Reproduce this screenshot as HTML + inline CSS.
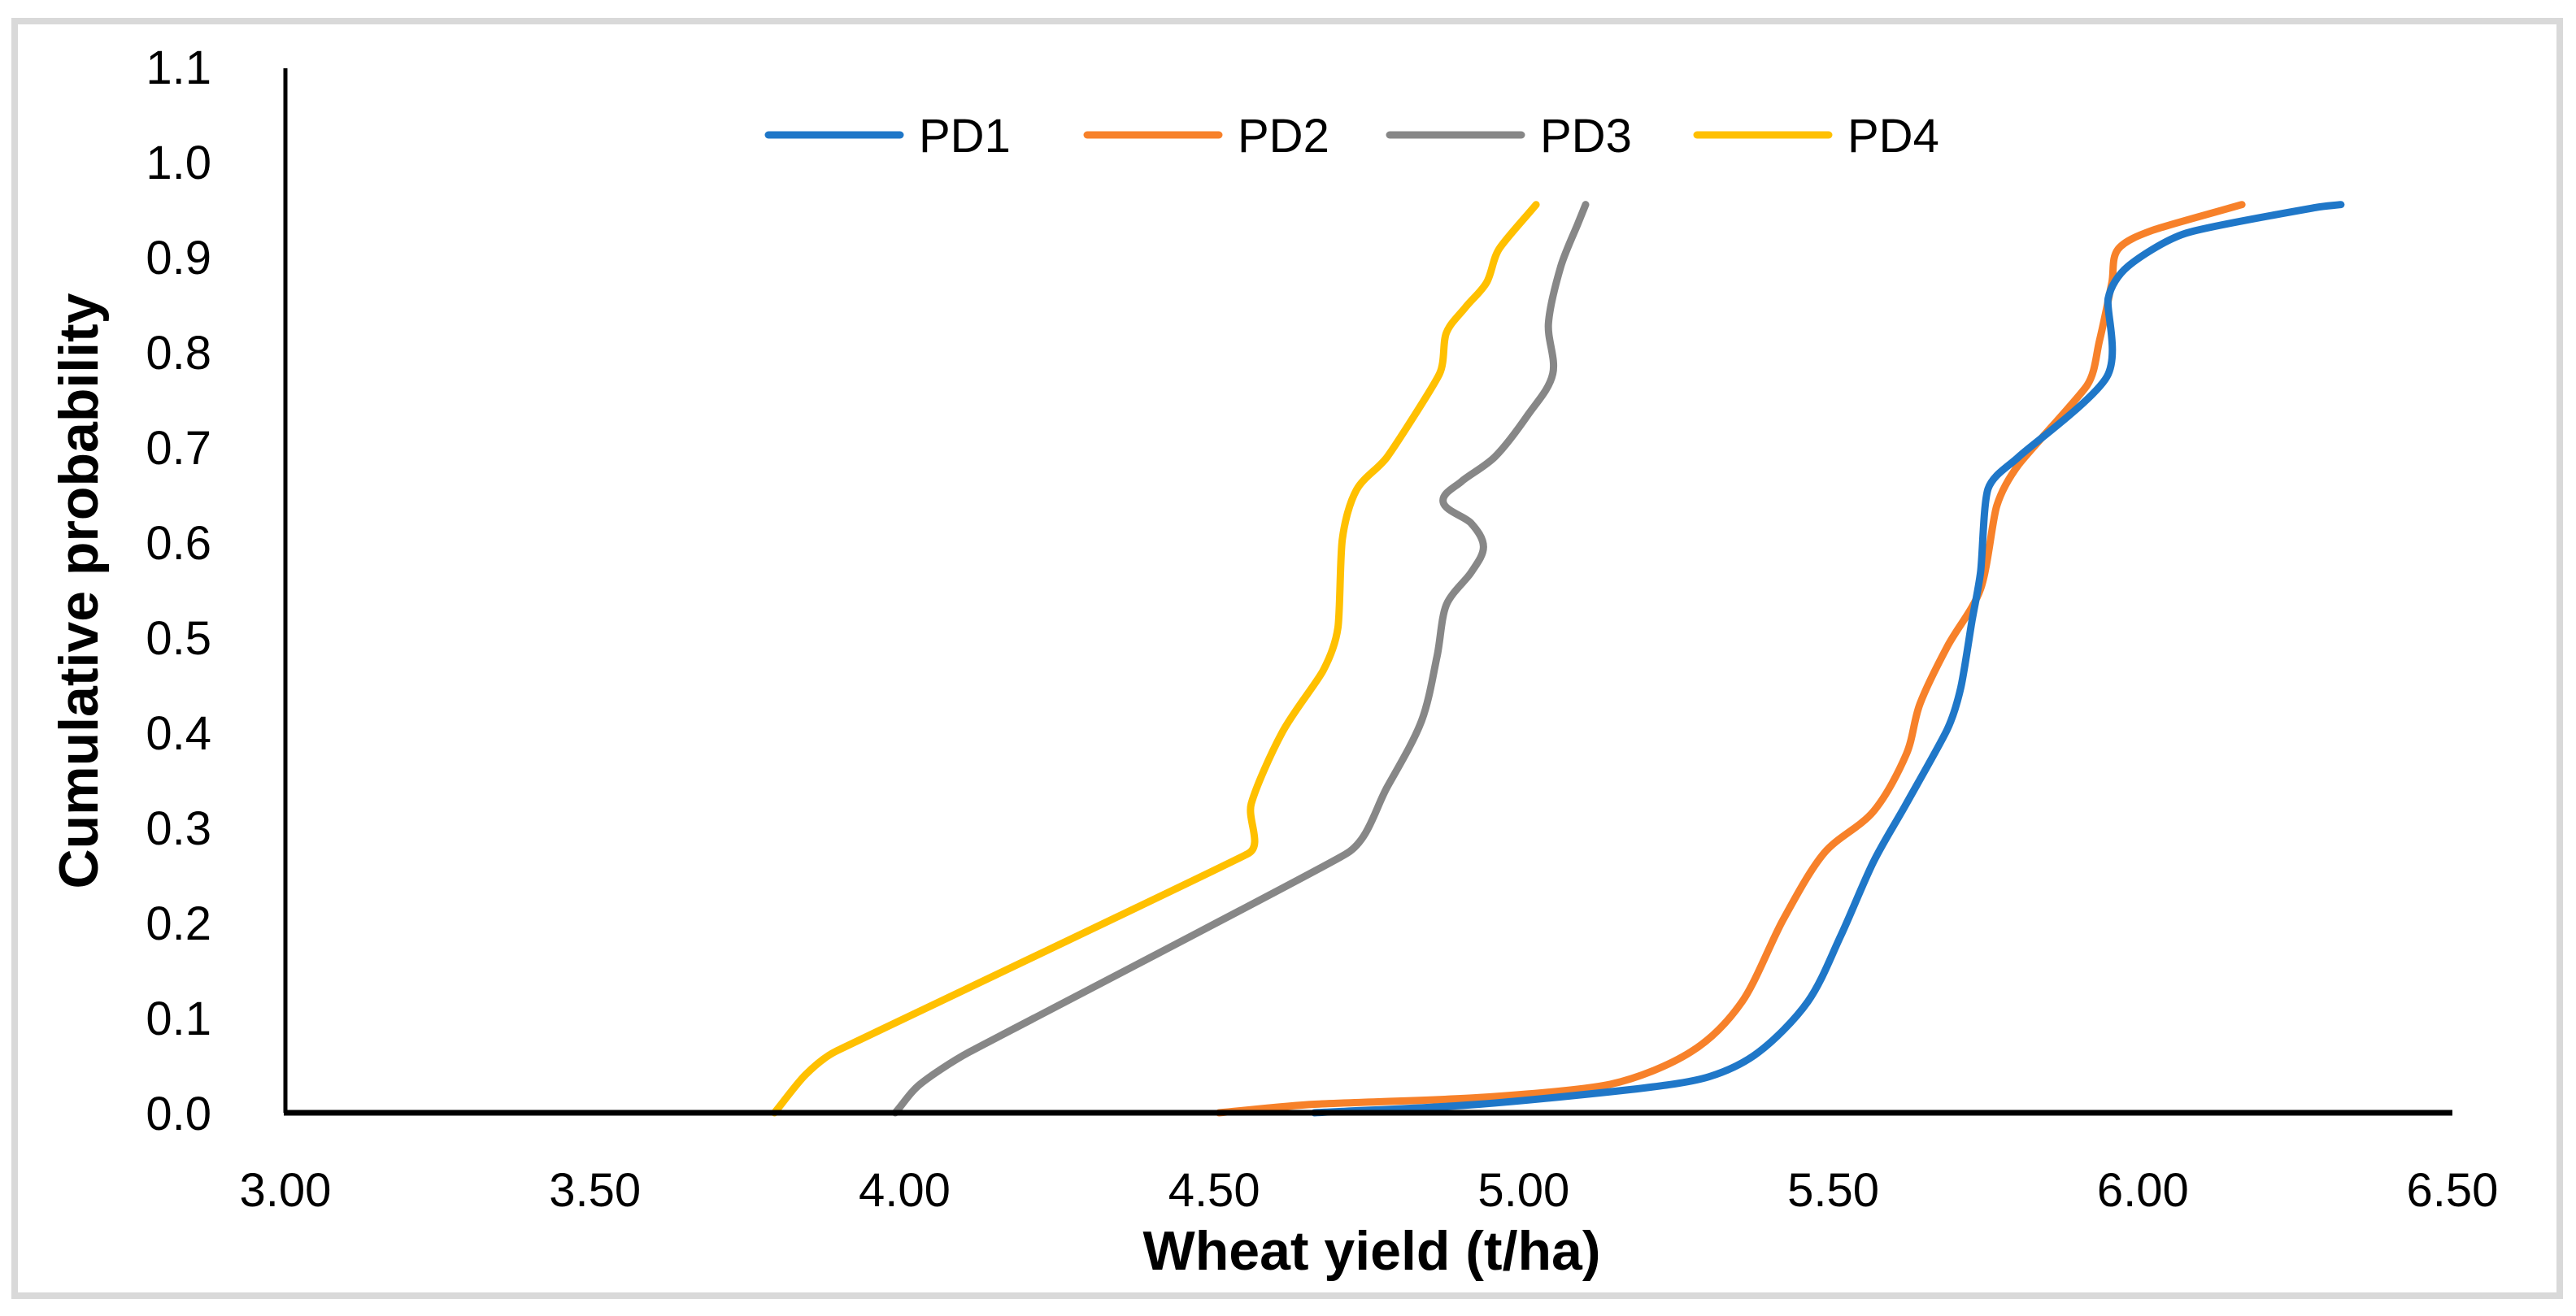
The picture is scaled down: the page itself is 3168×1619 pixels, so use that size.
<!DOCTYPE html>
<html><head><meta charset="utf-8"><style>
html,body{margin:0;padding:0;background:#fff;}
svg{display:block;font-family:"Liberation Sans",sans-serif;}
</style></head><body>
<svg id="chart" width="3168" height="1619" viewBox="0 0 3168 1619" xmlns="http://www.w3.org/2000/svg">
<rect x="18" y="26" width="3130" height="1568" fill="#fff" stroke="#d9d9d9" stroke-width="8"/>
<g id="series"></g>
<g id="axes"></g>
<text x="1687" y="1562" text-anchor="middle" font-size="68" font-weight="bold">Wheat yield (t/ha)</text>
<text transform="translate(120,727) rotate(-90)" text-anchor="middle" font-size="68" font-weight="bold">Cumulative probability</text>
<g id="legend"></g>
</svg>
<script>
const seriesNames = ["PD1","PD2","PD3","PD4"];
const seriesColors = ["#1f77c8","#f7812a","#878787","#ffc000"];
const pd1Yield = [4.662,4.928,5.193,5.30,5.38,5.459,5.512,5.565,5.618,5.684,5.706,5.724,5.738,5.75,5.80,5.942,5.944,5.976,6.07,6.28,6.32];
const pd1Prob  = [0,0.009,0.026,0.038,0.064,0.117,0.186,0.264,0.325,0.403,0.447,0.517,0.569,0.656,0.69,0.774,0.856,0.89,0.925,0.952,0.955];
const pd2Yield = [4.508,4.662,4.928,5.14,5.27,5.353,5.419,5.485,5.565,5.618,5.64,5.684,5.738,5.764,5.80,5.91,5.93,5.95,5.96,6.016,6.16];
const pd2Prob  = [0,0.009,0.016,0.03,0.064,0.117,0.203,0.273,0.317,0.377,0.43,0.49,0.551,0.638,0.682,0.765,0.812,0.873,0.908,0.928,0.955];
const pd3Yield = [3.985,4.025,4.105,4.715,4.78,4.835,4.86,4.875,4.915,4.935,4.915,4.87,4.90,4.954,5.007,5.047,5.04,5.06,5.087,5.10];
const pd3Prob  = [0,0.03,0.064,0.273,0.343,0.412,0.48,0.534,0.568,0.595,0.62,0.642,0.664,0.69,0.734,0.777,0.83,0.89,0.934,0.955];
const pd4Yield = [3.79,3.84,3.89,4.556,4.56,4.61,4.676,4.70,4.707,4.73,4.78,4.864,4.875,4.906,4.94,4.96,5.02];
const pd4Prob  = [0,0.04,0.065,0.273,0.325,0.40,0.465,0.51,0.603,0.655,0.69,0.777,0.82,0.847,0.873,0.908,0.955];
const xTicks = ["3.00","3.50","4.00","4.50","5.00","5.50","6.00","6.50"];
const yTicks = ["0.0","0.1","0.2","0.3","0.4","0.5","0.6","0.7","0.8","0.9","1.0","1.1"];

const NS="http://www.w3.org/2000/svg";
const X0=351, X1=3016, XMIN=3, XMAX=6.5, Y0=1369, YTOP=82, YMAX=1.1;
const xs=v=>X0+(v-XMIN)/(XMAX-XMIN)*(X1-X0);
const ys=v=>Y0-v/YMAX*(Y0-YTOP);
function mk(tag,attrs,parent){const e=document.createElementNS(NS,tag);for(const k in attrs)e.setAttribute(k,attrs[k]);parent.appendChild(e);return e;}
const dist=(a,b)=>Math.hypot(a[0]-b[0],a[1]-b[1]);
function tangent(p,i){
  const a=p[Math.max(0,i-1)],b=p[Math.min(p.length-1,i+1)];
  const L=dist(a,b)||1;
  let arm;
  if(i===0) arm=dist(p[0],p[1]);
  else if(i===p.length-1) arm=dist(p[i-1],p[i]);
  else arm=Math.min(dist(p[i-1],p[i]),dist(p[i],p[i+1]));
  return [(b[0]-a[0])/L,(b[1]-a[1])/L,arm*0.33];
}
function smooth(p){
  let d="M"+p[0][0].toFixed(1)+","+p[0][1].toFixed(1);
  for(let i=0;i<p.length-1;i++){
    const t1=tangent(p,i),t2=tangent(p,i+1);
    const c1=[p[i][0]+t1[0]*t1[2],p[i][1]+t1[1]*t1[2]];
    const c2=[p[i+1][0]-t2[0]*t2[2],p[i+1][1]-t2[1]*t2[2]];
    d+=" C"+c1.map(v=>v.toFixed(1)).join(",")+" "+c2.map(v=>v.toFixed(1)).join(",")+" "+p[i+1][0].toFixed(1)+","+p[i+1][1].toFixed(1);
  }
  return d;
}

const series=document.getElementById('series');
const ysets=[pd1Yield,pd2Yield,pd3Yield,pd4Yield], psets=[pd1Prob,pd2Prob,pd3Prob,pd4Prob];
[3,2,1,0].forEach(i=>{
  const pts=ysets[i].map((v,j)=>[xs(v),ys(psets[i][j])]);
  const pl=mk('path',{d:smooth(pts),fill:"none",stroke:seriesColors[i],"stroke-width":9,"stroke-linejoin":"round","stroke-linecap":"round"},series);
  
  
});

const axes=document.getElementById('axes');
const ya=mk('line',{x1:X0,y1:YTOP+2,x2:X0,y2:Y0,stroke:"#000","stroke-width":5},axes);


const xa=mk('line',{x1:X0-2,y1:Y0,x2:X1,y2:Y0,stroke:"#000","stroke-width":7},axes);


xTicks.forEach(t=>{
  const e=mk('text',{x:xs(parseFloat(t)),y:1484,"text-anchor":"middle","font-size":58},axes);
  e.textContent=t;
  
  
});
yTicks.forEach(t=>{
  const e=mk('text',{x:260,y:ys(parseFloat(t))+21,"text-anchor":"end","font-size":58},axes);
  e.textContent=t;
  
  
});

const legend=document.getElementById('legend');
const lx=[945,1337,1709,2087];
seriesNames.forEach((n,i)=>{
  const g=mk('g',{},legend);
  
  
  mk('line',{x1:lx[i],y1:166,x2:lx[i]+162,y2:166,stroke:seriesColors[i],"stroke-width":9,"stroke-linecap":"round"},g);
  const t=mk('text',{x:lx[i]+185,y:187,"font-size":58},g);
  t.textContent=n;
});
</script>
</body></html>
